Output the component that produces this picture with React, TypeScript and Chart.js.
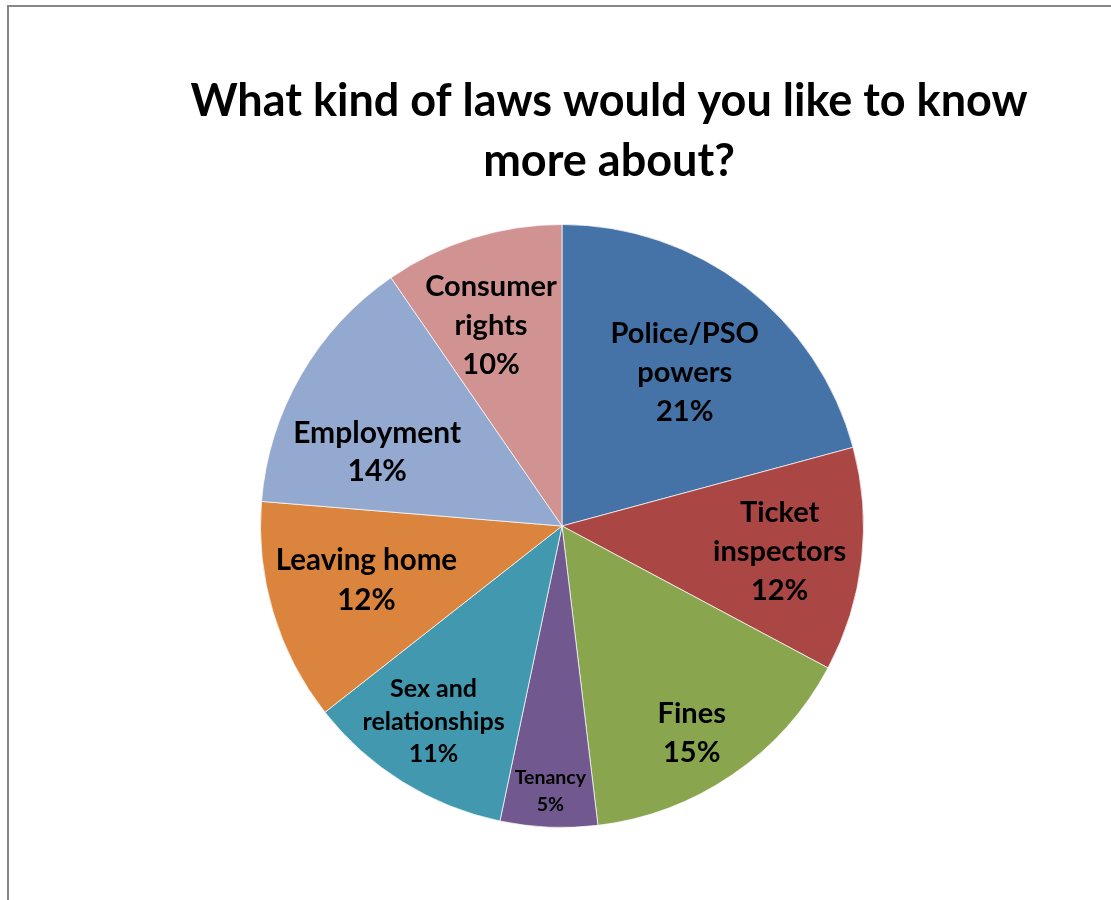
import { useEffect, useRef } from "react";
import { Chart, registerables } from "chart.js";

Chart.register(...registerables);

const titleLines = ["What kind of laws would you like to know", "more about?"];

const categories: string[][] = [
  ["Police/PSO", "powers"],
  ["Ticket", "inspectors"],
  ["Fines"],
  ["Tenancy"],
  ["Sex and", "relationships"],
  ["Leaving home"],
  ["Employment"],
  ["Consumer", "rights"],
];

const shares = [20.8, 12.0, 15.3, 5.2, 11.1, 11.9, 14.1, 9.6];

const sliceColors = [
  "#4572A7",
  "#AA4643",
  "#89A54E",
  "#71588F",
  "#4198AF",
  "#DB843D",
  "#93A9CF",
  "#D19392",
];

// label placement styles: radius fraction, angular shift (deg), font size, line height
const labelStyles = [
  { r: 0.652, shift: 1.2, size: 29, lh: 39 },
  { r: 0.727, shift: 0.3, size: 29, lh: 39 },
  { r: 0.81, shift: 2.3, size: 29, lh: 39 },
  { r: 0.88, shift: 0, size: 19.5, lh: 27 },
  { r: 0.777, shift: 1.4, size: 25, lh: 32.5 },
  { r: 0.673, shift: 1.3, size: 29.5, lh: 40 },
  { r: 0.66, shift: -8.3, size: 30, lh: 38 },
  { r: 0.706, shift: -2.2, size: 29, lh: 39 },
];

const FONT = "Lato, 'Open Sans', sans-serif";

const framePlugin = {
  id: "frame",
  beforeDraw(chart: any) {
    const ctx = chart.ctx;
    ctx.save();
    ctx.fillStyle = "#ffffff";
    ctx.fillRect(0, 0, chart.width, chart.height);
    ctx.strokeStyle = "#878787";
    ctx.lineWidth = 2;
    ctx.strokeRect(8, 6, 1300, 1100);
    ctx.restore();
  },
  afterDraw(chart: any) {
    const ctx = chart.ctx;
    ctx.save();
    ctx.fillStyle = "#000000";
    ctx.font = `bold 45px ${FONT}`;
    ctx.textAlign = "center";
    ctx.textBaseline = "middle";
    titleLines.forEach((line, i) => {
      ctx.fillText(line, 609, 101 + i * 60);
    });
    ctx.restore();
  },
};

const sliceLabelPlugin = {
  id: "sliceLabels",
  afterDatasetsDraw(chart: any) {
    const ctx = chart.ctx;
    const meta = chart.getDatasetMeta(0);
    const data = chart.data.datasets[0].data as number[];
    ctx.save();
    ctx.fillStyle = "#000000";
    ctx.textAlign = "center";
    ctx.textBaseline = "middle";
    meta.data.forEach((arc: any, i: number) => {
      const p = arc.getProps(["x", "y", "startAngle", "endAngle", "outerRadius"], true);
      const st = labelStyles[i];
      const mid = (p.startAngle + p.endAngle) / 2 + (st.shift * Math.PI) / 180;
      const cx = p.x + Math.cos(mid) * p.outerRadius * st.r;
      const cy = p.y + Math.sin(mid) * p.outerRadius * st.r;
      const lines = [...categories[i], `${Math.round(data[i])}%`];
      ctx.font = `bold ${st.size}px ${FONT}`;
      const top = cy - ((lines.length - 1) * st.lh) / 2;
      lines.forEach((l, k) => ctx.fillText(l, cx, top + k * st.lh));
    });
    ctx.restore();
  },
};

export default function App() {
  const ref = useRef<HTMLCanvasElement | null>(null);
  useEffect(() => {
    if (!ref.current) return;
    const chart = new Chart(ref.current, {
      type: "pie",
      data: {
        labels: categories.map((c) => c.join(" ")),
        datasets: [
          {
            data: shares,
            backgroundColor: sliceColors,
            borderColor: "rgba(255,255,255,0.7)",
            borderWidth: 1,
          },
        ],
      },
      options: {
        animation: false,
        responsive: false,
        maintainAspectRatio: false,
        layout: { padding: { left: 260, right: 247, top: 224, bottom: 72 } },
        plugins: {
          legend: { display: false },
          tooltip: { enabled: false },
          title: { display: false },
        },
      },
      plugins: [framePlugin, sliceLabelPlugin],
    });
    return () => chart.destroy();
  }, []);
  return (
    <div style={{ position: "absolute", left: 0, top: 0, width: 1111, height: 900 }}>
      <canvas ref={ref} width={1111} height={900} />
    </div>
  );
}
